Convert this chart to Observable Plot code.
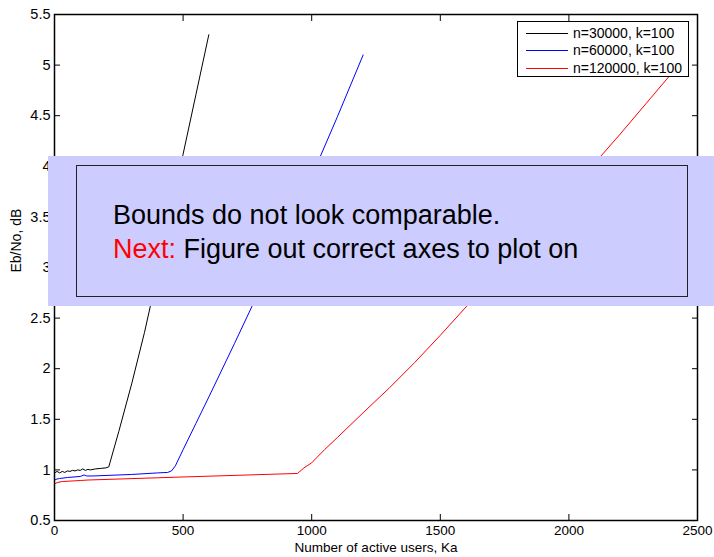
<!DOCTYPE html>
<html>
<head>
<meta charset="utf-8">
<script src="https://cdn.jsdelivr.net/npm/d3@7"></script>
<script src="https://cdn.jsdelivr.net/npm/@observablehq/plot@0.6"></script>
<style>
  html, body { margin: 0; padding: 0; background: #fff; }
  #wrap { position: relative; width: 714px; height: 557px; font-family: "Liberation Sans", Arial, Helvetica, sans-serif; }
  #legend { position: absolute; left: 517px; top: 21px; width: 172px; height: 56px; border: 1px solid #000; background: #fff; box-sizing: border-box; }
  .row { position: absolute; left: 0; height: 17px; width: 172px; }
  .row .sw { position: absolute; left: 8px; width: 42px; top: 8px; height: 0; border-top: 1px solid; }
  .row .lb { position: absolute; left: 55px; top: 0; font-size: 14px; line-height: 17px; color: #000; white-space: nowrap; }
  #overlay { position: absolute; left: 48px; top: 156px; width: 666px; height: 150px; background: #ccccff; }
  #inner { position: absolute; left: 28px; top: 9px; width: 612px; height: 132px; border: 1.5px solid #222; box-sizing: border-box; }
  .ol { position: absolute; left: 65px; font-size: 27px; line-height: 33px; color: #000; white-space: nowrap; font-family: "Liberation Sans", Arial, sans-serif; }
</style>
</head>
<body>
<div id="wrap"></div>
<script>
// ---- data ----
const seriesNames = ["n=30000, k=100", "n=60000, k=100", "n=120000, k=100"];
const seriesColors = ["#000000", "#0000ff", "#ff0000"];

const blackKa = [0, 10, 20, 30, 40, 50, 60, 70, 80, 90, 100, 110, 120, 130, 140, 160, 180, 200, 211, 250, 300, 350, 400, 450, 500, 550, 600];
const blackEb = [0.97, 0.985, 0.97, 0.985, 0.975, 0.99, 0.985, 0.995, 0.99, 1.0, 0.995, 1.01, 0.995, 1.005, 1.0, 1.01, 1.015, 1.02, 1.03, 1.38, 1.85, 2.36, 2.93, 3.52, 4.12, 4.71, 5.30];

const blueKa = [0, 10, 20, 50, 100, 115, 125, 150, 200, 300, 400, 440, 455, 470, 500, 550, 600, 700, 800, 900, 1000, 1100, 1200];
const blueEb = [0.90, 0.91, 0.915, 0.925, 0.935, 0.95, 0.94, 0.94, 0.945, 0.955, 0.97, 0.975, 0.99, 1.04, 1.20, 1.46, 1.72, 2.25, 2.79, 3.34, 3.90, 4.49, 5.10];

const redKa = [0, 10, 30, 100, 130, 500, 945, 970, 1000, 1050, 1100, 1200, 1300, 1400, 1500, 1600, 1700, 1800, 1900, 2000, 2100, 2200, 2300, 2400];
const redEb = [0.86, 0.875, 0.885, 0.895, 0.90, 0.93, 0.965, 1.02, 1.07, 1.20, 1.32, 1.565, 1.805, 2.06, 2.33, 2.61, 2.89, 3.17, 3.45, 3.74, 4.03, 4.32, 4.62, 4.92];

const xTicks = [0, 500, 1000, 1500, 2000, 2500];
const xTickLabels = ["0", "500", "1000", "1500", "2000", "2500"];
const yTicks = [0.5, 1, 1.5, 2, 2.5, 3, 3.5, 4, 4.5, 5, 5.5];
const yTickLabels = ["0.5", "1", "1.5", "2", "2.5", "3", "3.5", "4", "4.5", "5", "5.5"];

const xLabel = "Number of active users, Ka";
const yLabel = "Eb/No, dB";
const overlayLine1 = "Bounds do not look comparable.";
const overlayNext = "Next:";
const overlayLine2 = " Figure out correct axes to plot on";

// ---- build table ----
const allKa = [blackKa, blueKa, redKa];
const allEb = [blackEb, blueEb, redEb];
const rows = [];
seriesNames.forEach((s, j) => allKa[j].forEach((k, i) => rows.push({series: s, ka: k, eb: allEb[j][i]})));

const chart = Plot.plot({
  width: 714,
  height: 557,
  marginLeft: 54,
  marginRight: 17,
  marginTop: 14,
  marginBottom: 37,
  style: {fontFamily: '"Liberation Sans", Arial, Helvetica, sans-serif', fontSize: "14px", color: "#000", background: "#fff"},
  x: {domain: [0, 2500]},
  y: {domain: [0.5, 5.5]},
  color: {domain: seriesNames, range: seriesColors},
  marks: [
    Plot.line(rows, {x: "ka", y: "eb", z: "series", stroke: "series", strokeWidth: 1}),
    Plot.axisX(xTicks, {anchor: "bottom", tickSize: -6, tickPadding: 11, tickFormat: d => xTickLabels[xTicks.indexOf(d)], label: null, stroke: "#000", strokeWidth: 1, fontSize: 13.5}),
    Plot.axisX(xTicks, {anchor: "top", tickSize: -6, tickFormat: () => "", label: null, stroke: "#000", strokeWidth: 1}),
    Plot.axisY(yTicks, {anchor: "left", tickSize: -6, tickPadding: 10, tickFormat: d => yTickLabels[yTicks.indexOf(d)], label: null, stroke: "#000", strokeWidth: 1, fontSize: 14.5}),
    Plot.axisY(yTicks, {anchor: "right", tickSize: -6, tickFormat: () => "", label: null, stroke: "#000", strokeWidth: 1}),
    Plot.frame({stroke: "#000", strokeWidth: 1.5}),
    Plot.text([xLabel], {frameAnchor: "bottom", dy: 31, text: d => d, fill: "#000", fontSize: 13.5}),
    Plot.text([yLabel], {frameAnchor: "left", dx: -38, dy: 5, rotate: -90, text: d => d, fill: "#000", fontSize: 14})
  ]
});

const wrap = document.getElementById("wrap");
wrap.appendChild(chart);

// legend
const legend = document.createElement("div");
legend.id = "legend";
seriesNames.forEach((s, i) => {
  const r = document.createElement("div");
  r.className = "row";
  r.style.top = (3 + i * 17.3) + "px";
  const sw = document.createElement("span");
  sw.className = "sw";
  sw.style.borderTopColor = seriesColors[i];
  const lb = document.createElement("span");
  lb.className = "lb";
  lb.textContent = s;
  r.appendChild(sw); r.appendChild(lb);
  legend.appendChild(r);
});
wrap.appendChild(legend);

// overlay note
const ov = document.createElement("div");
ov.id = "overlay";
const inner = document.createElement("div");
inner.id = "inner";
ov.appendChild(inner);
const l1 = document.createElement("div");
l1.className = "ol";
l1.style.top = "43px";
l1.textContent = overlayLine1;
const l2 = document.createElement("div");
l2.className = "ol";
l2.style.top = "77px";
const nx = document.createElement("span");
nx.style.color = "#ff0000";
nx.textContent = overlayNext;
l2.appendChild(nx);
l2.appendChild(document.createTextNode(overlayLine2));
ov.appendChild(l1);
ov.appendChild(l2);
wrap.appendChild(ov);
</script>
</body>
</html>
